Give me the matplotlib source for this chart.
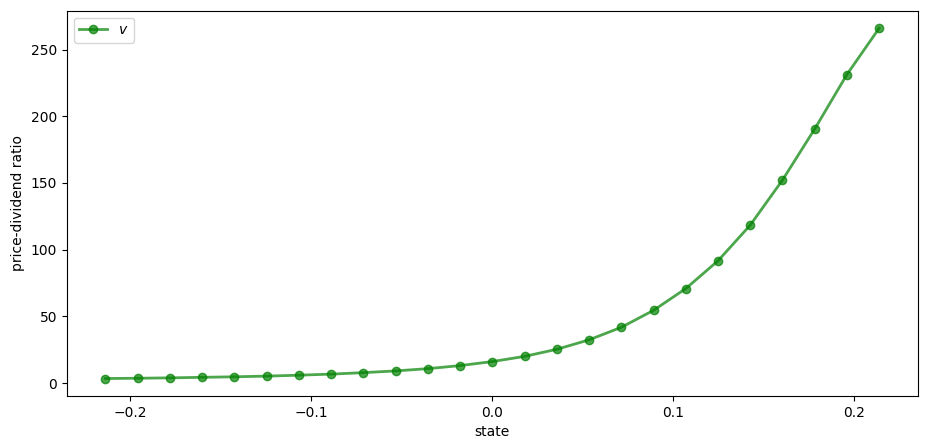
import numpy as np
import matplotlib
matplotlib.use('Agg')
import matplotlib.pyplot as plt

# 状态网格与价格-股息比
states = [-0.2138, -0.1960, -0.1782, -0.1604, -0.1425, -0.1247, -0.1069,
          -0.0891, -0.0713, -0.0535, -0.0356, -0.0178, 0.0, 0.0178, 0.0356,
          0.0535, 0.0713, 0.0891, 0.1069, 0.1247, 0.1425, 0.1604, 0.1782,
          0.1960, 0.2138]
v = [3.4, 3.6, 3.9, 4.3, 4.7, 5.2, 5.9, 6.7, 7.8, 9.1, 10.8, 13.1, 16.1,
     20.0, 25.3, 32.4, 41.8, 54.5, 70.8, 91.6, 118.3, 152.2, 190.5, 231.3,
     266.0]

fig, ax = plt.subplots(figsize=(9.28, 4.48), dpi=100)
ax.plot(states, v, 'g-o', lw=2, alpha=0.7, label='$v$')
ax.set_xlabel('state')
ax.set_ylabel('price-dividend ratio')
ax.legend(loc='upper left')
fig.subplots_adjust(left=0.072, right=0.989, top=0.976, bottom=0.116)
fig.savefig('out.png')
